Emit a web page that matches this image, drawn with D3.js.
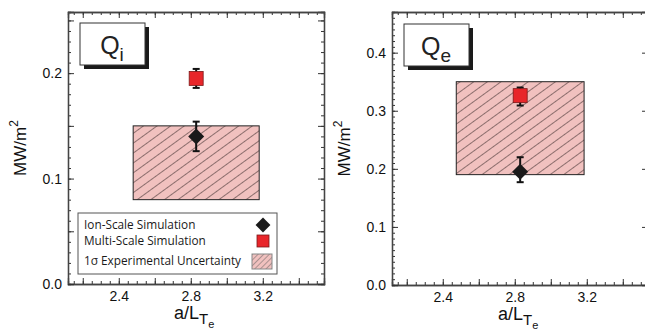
<!DOCTYPE html>
<html>
<head>
<meta charset="utf-8">
<script src="https://cdn.jsdelivr.net/npm/d3@7"></script>
<style>
  body { margin: 0; background: #fff; }
  svg { display: block; font-family: "Liberation Sans", Arial, sans-serif; }
  .axis path { stroke: #444; }
  .axis line { stroke: #333; }
  .axis text { font-size: 14px; fill: #111; }
</style>
</head>
<body>
<svg id="chart" width="645" height="330"></svg>
<script>
// values
var fluxSub = ['i', 'e'];
var xLabels = [2.4, 2.8, 3.2];
var yLabelsQi = [0.0, 0.1, 0.2];
var yLabelsQe = [0.0, 0.1, 0.2, 0.3, 0.4];
var yMax = [0.258, 0.47];
var aLTe = [2.83, 2.83];
var ionScale = [0.140, 0.195];
var ionLo = [0.126, 0.177];
var ionHi = [0.154, 0.220];
var multiScale = [0.195, 0.326];
var multiLo = [0.186, 0.309];
var multiHi = [0.204, 0.340];
var expXLo = [2.48, 2.475];
var expXHi = [3.18, 3.185];
var expLo = [0.080, 0.19];
var expHi = [0.150, 0.35];
var legendNames = ['Ion-Scale Simulation', 'Multi-Scale Simulation', '1\u03c3 Experimental Uncertainty'];

var svg = d3.select('#chart');

var defs = svg.append('defs');
var pat = defs.append('pattern')
    .attr('id', 'hatch')
    .attr('patternUnits', 'userSpaceOnUse')
    .attr('width', 8)
    .attr('height', 8)
    .attr('patternTransform', 'rotate(-36)');
pat.append('rect').attr('width', 8).attr('height', 8).attr('fill', '#f1c1bf');
pat.append('line').attr('x1', 0).attr('y1', 0).attr('x2', 8).attr('y2', 0)
    .attr('stroke', '#3a2a2a').attr('stroke-width', 1.1);

var patSmall = defs.append('pattern')
    .attr('id', 'hatchSmall')
    .attr('patternUnits', 'userSpaceOnUse')
    .attr('width', 4)
    .attr('height', 4)
    .attr('patternTransform', 'rotate(-45)');
patSmall.append('rect').attr('width', 4).attr('height', 4).attr('fill', '#f1c1bf');
patSmall.append('line').attr('x1', 0).attr('y1', 0).attr('x2', 4).attr('y2', 0)
    .attr('stroke', '#555').attr('stroke-width', 0.9);

var panels = [
    {left: 68, top: 12, width: 256, height: 272, yLabels: yLabelsQi, yMajor: 0.05},
    {left: 392, top: 12, width: 256, height: 273, yLabels: yLabelsQe, yMajor: 0.1}
];

panels.forEach(function(p, i) { drawPanel(p, i); });

function fmt(d) { return d3.format('.1f')(d); }

function drawPanel(p, i) {
    var g = svg.append('g').attr('transform', 'translate(' + p.left + ',' + p.top + ')');

    var x = d3.scaleLinear().domain([2.118, 3.54]).range([0, p.width]);
    var y = d3.scaleLinear().domain([0, yMax[i]]).range([p.height, 0]);

    var xMinor = d3.range(2.15, 3.54, 0.05);
    var xMajor = d3.range(2.2, 3.54, 0.2);
    var yMinorT = d3.range(0, yMax[i], 0.01);
    var yMajorT = d3.range(0, yMax[i], p.yMajor);

    // experimental uncertainty box
    g.append('rect')
        .attr('x', x(expXLo[i]))
        .attr('y', y(expHi[i]))
        .attr('width', x(expXHi[i]) - x(expXLo[i]))
        .attr('height', y(expLo[i]) - y(expHi[i]))
        .attr('fill', 'url(#hatch)')
        .attr('stroke', '#222')
        .attr('stroke-width', 1);

    // ticks, all four sides, pointing inward
    function addAxis(axis, tr) {
        var a = g.append('g').attr('class', 'axis').attr('transform', tr).call(axis);
        a.select('.domain').attr('stroke-width', 1.3);
        return a;
    }
    addAxis(d3.axisBottom(x).tickValues(xMinor).tickSize(-3).tickFormat(''), 'translate(0,' + p.height + ')');
    addAxis(d3.axisTop(x).tickValues(xMinor).tickSize(-3).tickFormat(''), 'translate(0,0)');
    addAxis(d3.axisLeft(y).tickValues(yMinorT).tickSize(-3).tickFormat(''), 'translate(0,0)');
    addAxis(d3.axisRight(y).tickValues(yMinorT).tickSize(-3).tickFormat(''), 'translate(' + p.width + ',0)');
    addAxis(d3.axisBottom(x).tickValues(xMajor).tickSize(-6).tickFormat(''), 'translate(0,' + p.height + ')');
    addAxis(d3.axisTop(x).tickValues(xMajor).tickSize(-6).tickFormat(''), 'translate(0,0)');
    addAxis(d3.axisLeft(y).tickValues(yMajorT).tickSize(-6).tickFormat(''), 'translate(0,0)');
    addAxis(d3.axisRight(y).tickValues(yMajorT).tickSize(-6).tickFormat(''), 'translate(' + p.width + ',0)');

    // labels
    var bx = addAxis(d3.axisBottom(x).tickValues(xLabels).tickSize(0).tickPadding(7).tickFormat(fmt),
        'translate(0,' + p.height + ')');
    bx.select('.domain').remove();
    var ly = addAxis(d3.axisLeft(y).tickValues(p.yLabels).tickSize(0).tickPadding(6).tickFormat(fmt),
        'translate(0,0)');
    ly.select('.domain').remove();

    // error bars
    function errBar(xv, lo, hi) {
        var eb = g.append('g').attr('stroke', '#111').attr('stroke-width', 2);
        eb.append('line').attr('x1', x(xv)).attr('x2', x(xv)).attr('y1', y(lo)).attr('y2', y(hi));
        eb.append('line').attr('x1', x(xv) - 3.5).attr('x2', x(xv) + 3.5).attr('y1', y(lo)).attr('y2', y(lo));
        eb.append('line').attr('x1', x(xv) - 3.5).attr('x2', x(xv) + 3.5).attr('y1', y(hi)).attr('y2', y(hi));
    }
    errBar(aLTe[i], multiLo[i], multiHi[i]);
    g.append('rect')
        .attr('x', x(aLTe[i]) - 7)
        .attr('y', y(multiScale[i]) - 7)
        .attr('width', 14).attr('height', 14)
        .attr('fill', '#e8262a')
        .attr('stroke', '#7a1a1a').attr('stroke-width', 0.8);

    errBar(aLTe[i], ionLo[i], ionHi[i]);
    g.append('path')
        .attr('d', d3.symbol().type(d3.symbolSquare).size(128))
        .attr('transform', 'translate(' + x(aLTe[i]) + ',' + y(ionScale[i]) + ') rotate(45)')
        .attr('fill', '#1a1a1a');

    // Q label box with shadow
    var qx = 12, qy = i === 0 ? 11 : 12;
    g.append('rect').attr('x', qx + 4).attr('y', qy + 4).attr('width', 65).attr('height', 42).attr('fill', '#1a1a1a');
    g.append('rect').attr('x', qx).attr('y', qy).attr('width', 65).attr('height', 42)
        .attr('fill', '#fff').attr('stroke', '#333').attr('stroke-width', 1);
    var qt = g.append('text')
        .attr('x', qx + 32).attr('y', qy + 31)
        .attr('text-anchor', 'middle')
        .attr('font-size', 25)
        .attr('fill', '#222');
    qt.append('tspan').text('Q');
    qt.append('tspan').attr('dy', 7).attr('font-size', 19).text(fluxSub[i]);

    // y axis title
    var yt = g.append('text')
        .attr('transform', 'translate(' + (-42) + ',' + (p.height / 2) + ') rotate(-90)')
        .attr('text-anchor', 'middle')
        .attr('font-size', 17)
        .attr('fill', '#111');
    yt.append('tspan').text('MW/m');
    yt.append('tspan').attr('dy', -8).attr('font-size', 12).text('2');

    // x axis title
    var xt = g.append('text')
        .attr('x', x(2.83) - 2)
        .attr('y', p.height + 35)
        .attr('text-anchor', 'middle')
        .attr('font-size', 18)
        .attr('fill', '#111');
    xt.append('tspan').text('a/L');
    xt.append('tspan').attr('dy', 5).attr('font-size', 15).text('T');
    xt.append('tspan').attr('dy', 4).attr('font-size', 11).text('e');

    if (i === 0) drawLegend(g);
}

function drawLegend(g) {
    var lg = g.append('g').attr('transform', 'translate(10,201)');
    lg.append('rect').attr('width', 199).attr('height', 61)
        .attr('fill', '#fff').attr('stroke', '#555').attr('stroke-width', 1);
    var rows = [12, 28, 48];
    lg.selectAll('text.leg').data(legendNames).enter().append('text')
        .attr('class', 'leg')
        .attr('x', 6)
        .attr('y', function(d, k) { return rows[k] + 4; })
        .attr('font-family', '"Open Sans", "Noto Sans", sans-serif')
        .attr('font-size', 11.8)
        .attr('fill', '#1a1a1a')
        .text(function(d) { return d; });
    lg.append('path')
        .attr('d', d3.symbol().type(d3.symbolSquare).size(110))
        .attr('transform', 'translate(185,' + rows[0] + ') rotate(45)')
        .attr('fill', '#1a1a1a');
    lg.append('rect').attr('x', 179).attr('y', rows[1] - 6).attr('width', 12).attr('height', 12)
        .attr('fill', '#e8262a').attr('stroke', '#7a1a1a').attr('stroke-width', 0.8);
    lg.append('rect').attr('x', 174).attr('y', rows[2] - 7).attr('width', 20).attr('height', 15)
        .attr('fill', 'url(#hatchSmall)').attr('stroke', '#888').attr('stroke-width', 1);
}
</script>
</body>
</html>
